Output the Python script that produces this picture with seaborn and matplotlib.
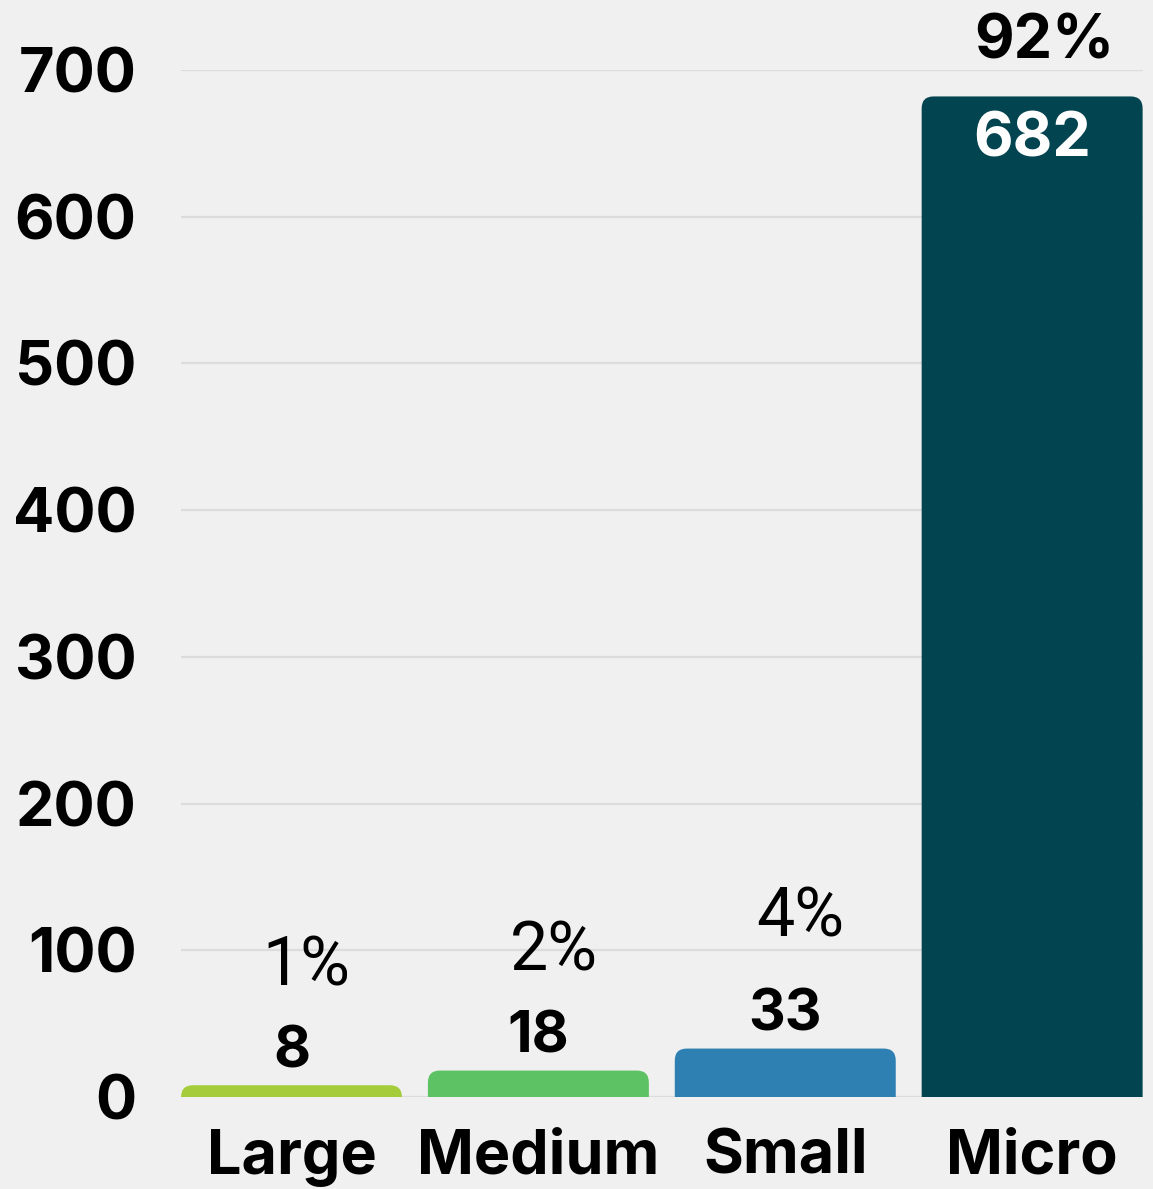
"""Bar chart of company counts by size class."""

import matplotlib
matplotlib.use("Agg")
import matplotlib.pyplot as plt
import pandas as pd
import seaborn as sns
from matplotlib.patches import FancyBboxPatch

CATEGORIES = ["Large", "Medium", "Small", "Micro"]
COUNTS = [8, 18, 33, 682]
SHARES = ["1%", "2%", "4%", "92%"]
COLORS = ["#A5CD3B", "#5CC263", "#2D80B1", "#02444F"]
Y_TICKS = [0, 100, 200, 300, 400, 500, 600, 700]

BG = "#F0F0F0"
BAR_WIDTH = 0.895
BOLD_FONT = ["Inter", "Roboto", "DejaVu Sans"]

sns.set_theme(style="whitegrid")
plt.rcParams.update(
    {
        "figure.facecolor": BG,
        "axes.facecolor": BG,
        "grid.color": "#DCDCDC",
        "grid.linewidth": 1.6,
    }
)
plt.rcParams["font.family"] = ["Roboto", "DejaVu Sans"]

df = pd.DataFrame({"size": CATEGORIES, "count": COUNTS})

fig = plt.figure(figsize=(11.53, 11.89), dpi=100)
ax = fig.add_axes([0.157, 0.0774, 0.834, 0.8637])

sns.barplot(
    data=df,
    x="size",
    y="count",
    hue="size",
    palette=COLORS,
    width=BAR_WIDTH,
    legend=False,
    ax=ax,
    saturation=1,
)

# swap the square bars for ones with rounded top corners
px_per_x = 247.0
px_per_y = 1027.0 / 700
radius_px = 12
for patch in list(ax.patches):
    x0, w, h = patch.get_x(), patch.get_width(), patch.get_height()
    color = patch.get_facecolor()
    patch.remove()
    r = radius_px / px_per_x
    aspect = (radius_px / px_per_y) / r
    rounded = FancyBboxPatch(
        (x0, -30),
        w,
        h + 30,
        boxstyle=f"round,pad=0,rounding_size={r}",
        mutation_aspect=aspect,
        facecolor=color,
        edgecolor="none",
        zorder=2,
    )
    ax.add_patch(rounded)

ax.set_xlim(-BAR_WIDTH / 2, 3 + BAR_WIDTH / 2)
ax.set_ylim(0, 700)
ax.set_yticks(Y_TICKS)
ax.set_xlabel("")
ax.set_ylabel("")
ax.grid(axis="x", visible=False)
ax.set_axisbelow(True)
for spine in ax.spines.values():
    spine.set_visible(False)
ax.tick_params(axis="both", length=0, labelsize=44, colors="black")
ax.tick_params(axis="y", pad=32)
ax.tick_params(axis="x", pad=23)
for label in ax.get_xticklabels() + ax.get_yticklabels():
    label.set_fontweight("bold")
    label.set_family(BOLD_FONT)

# value and share labels
for i, (count, share) in enumerate(zip(COUNTS, SHARES)):
    if count > 300:
        ax.annotate(str(count), (i, count), xytext=(0, -43), textcoords="offset points",
                    ha="center", va="baseline", fontsize=44, fontweight="bold",
                    family=BOLD_FONT, color="white", annotation_clip=False)
        ax.annotate(share, (i, count), xytext=(9, 27), textcoords="offset points",
                    ha="center", va="baseline", fontsize=44, fontweight="bold",
                    family=BOLD_FONT, color="black", annotation_clip=False)
    else:
        ax.annotate(str(count), (i, count), xytext=(0, 13), textcoords="offset points",
                    ha="center", va="baseline", fontsize=41, fontweight="bold",
                    family=BOLD_FONT, color="black")
        lift = 81 if count > 25 else 72
        ax.annotate(share, (i, count), xytext=(11, lift), textcoords="offset points",
                    ha="center", va="baseline", fontsize=49, color="black")

fig.savefig("out.png", dpi=100, facecolor=BG)
